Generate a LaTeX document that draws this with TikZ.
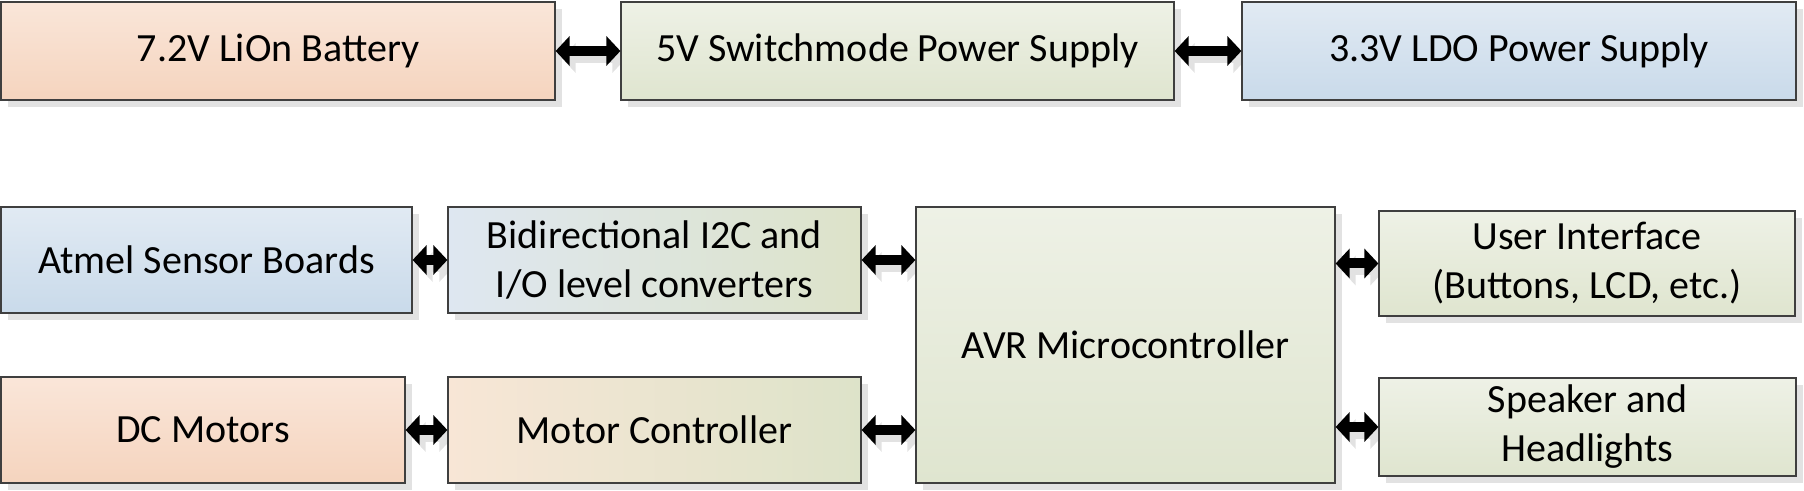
\documentclass[tikz,border=0pt]{standalone}
\usepackage{fontspec}
\setmainfont{Carlito}
\usetikzlibrary{shadows,arrows.meta}
\definecolor{bordc}{HTML}{3F3F3F}
\definecolor{shadc}{HTML}{E2E2E2}
\definecolor{orT}{HTML}{FAE6D9}
\definecolor{orB}{HTML}{F5D4BE}
\definecolor{grT}{HTML}{EEF1E6}
\definecolor{grB}{HTML}{DFE5CF}
\definecolor{blT}{HTML}{E1EAF3}
\definecolor{blB}{HTML}{C9DAEA}
\definecolor{blL}{HTML}{DEE7F1}
\definecolor{grR}{HTML}{DDE3C9}
\definecolor{orL}{HTML}{F8E6D6}
\pgfdeclarelayer{bg}
\pgfsetlayers{bg,main}
\begin{document}
\begin{tikzpicture}[x=0.5pt,y=-0.5pt,
  blk/.style={draw=bordc, line width=0.6pt, rectangle, inner sep=0pt, align=center,
    font=\fontsize{20}{24.5}\selectfont,
    drop shadow={shadow xshift=3.5pt, shadow yshift=-3.5pt, fill=shadc, opacity=1}},
  orange/.style={top color=orT, bottom color=orB},
  green/.style={top color=grT, bottom color=grB},
  blue/.style={top color=blT, bottom color=blB},
  bluegreen/.style={left color=blL, right color=grR},
  orangegreen/.style={left color=orL, right color=grR},
  conn/.style={line width=5pt, black, {Triangle[length=7pt,width=14.5pt]}-{Triangle[length=7pt,width=14.5pt]}},
  connsh/.style={line width=5pt, shadc, {Triangle[length=7pt,width=14.5pt]}-{Triangle[length=7pt,width=14.5pt]},
    transform canvas={xshift=3pt,yshift=-3.5pt}}
]
\useasboundingbox (0,0) rectangle (1804,491);

\node[blk, orange, minimum width=277pt, minimum height=49pt] (bat) at (278,51) {7.2V LiOn Battery};
\node[blk, green, minimum width=276.5pt, minimum height=49pt] (sw5) at (897.5,51) {5V Switchmode Power Supply};
\node[blk, blue, minimum width=277pt, minimum height=49pt] (ldo) at (1519,51) {3.3V LDO Power Supply};

\node[blk, blue, minimum width=205.5pt, minimum height=53pt] (atm) at (206.5,260) {Atmel Sensor Boards};
\node[blk, bluegreen, minimum width=206.5pt, minimum height=53pt] (bid) at (654.5,260) {Bidirectional I2C and\\I/O level converters};
\node[blk, green, minimum width=209.5pt, minimum height=138pt] (avr) at (1125.5,345) {AVR Microcontroller};
\node[blk, green, minimum width=208pt, minimum height=52.5pt] (ui) at (1587,263.5) {User Interface\\(Buttons, LCD, etc.)};
\node[blk, green, minimum width=208.5pt, minimum height=49pt] (spk) at (1587.5,427) {Speaker and\\Headlights};
\node[blk, orange, minimum width=202pt, minimum height=53pt] (dc) at (203,430) {DC Motors};
\node[blk, orangegreen, minimum width=206.5pt, minimum height=53pt] (mc) at (654.5,430) {Motor Controller};

\begin{pgfonlayer}{bg}
\draw[connsh] (bat.east) -- (sw5.west);
\draw[connsh] (sw5.east) -- (ldo.west);
\draw[connsh] (atm.east) -- (bid.west);
\draw[connsh] (bid.east) -- (bid.east -| avr.west);
\draw[connsh] (dc.east) -- (mc.west);
\draw[connsh] (mc.east) -- (mc.east -| avr.west);
\draw[connsh] (ui.west -| avr.east) -- (ui.west);
\draw[connsh] (spk.west -| avr.east) -- (spk.west);
\end{pgfonlayer}

\draw[conn] (bat.east) -- (sw5.west);
\draw[conn] (sw5.east) -- (ldo.west);
\draw[conn] (atm.east) -- (bid.west);
\draw[conn] (bid.east) -- (bid.east -| avr.west);
\draw[conn] (dc.east) -- (mc.west);
\draw[conn] (mc.east) -- (mc.east -| avr.west);
\draw[conn] (ui.west -| avr.east) -- (ui.west);
\draw[conn] (spk.west -| avr.east) -- (spk.west);
\end{tikzpicture}
\end{document}
